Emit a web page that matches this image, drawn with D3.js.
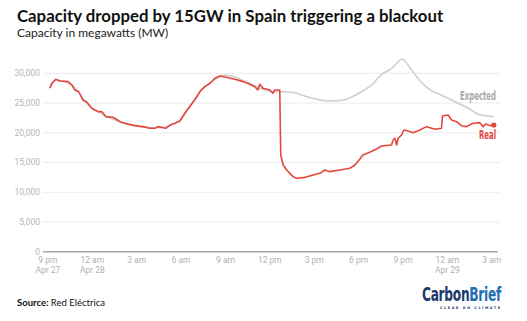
<!DOCTYPE html>
<html>
<head>
<meta charset="utf-8">
<script src="https://cdn.jsdelivr.net/npm/d3@7"></script>
<style>
  html, body { margin: 0; padding: 0; background: #fff; }
  svg { display: block; }
</style>
</head>
<body>
<div id="chart"></div>
<script>
// Spanish grid capacity around the 28 April blackout, real vs expected (MW)
const parseTime = d3.timeParse("%b %d %H:%M");

const realTimes = [
  "Apr 27 21:08", "Apr 27 21:16", "Apr 27 21:32", "Apr 27 21:49", "Apr 27 22:21", "Apr 27 22:37",
  "Apr 27 22:49", "Apr 27 23:05", "Apr 27 23:22", "Apr 27 23:38", "Apr 27 23:58", "Apr 28 00:23",
  "Apr 28 00:39", "Apr 28 00:55", "Apr 28 01:23", "Apr 28 01:36", "Apr 28 01:52", "Apr 28 02:24",
  "Apr 28 02:53", "Apr 28 03:25", "Apr 28 03:53", "Apr 28 04:14", "Apr 28 04:26", "Apr 28 04:58",
  "Apr 28 05:15", "Apr 28 05:35", "Apr 28 05:55", "Apr 28 06:15", "Apr 28 06:35", "Apr 28 07:00",
  "Apr 28 07:16", "Apr 28 07:36", "Apr 28 07:57", "Apr 28 08:17", "Apr 28 08:37", "Apr 28 09:02",
  "Apr 28 09:38", "Apr 28 10:11", "Apr 28 10:39", "Apr 28 10:59", "Apr 28 11:11", "Apr 28 11:19",
  "Apr 28 11:32", "Apr 28 12:00", "Apr 28 12:12", "Apr 28 12:20", "Apr 28 12:40", "Apr 28 12:44",
  "Apr 28 12:54", "Apr 28 13:08", "Apr 28 13:21", "Apr 28 13:34", "Apr 28 13:48", "Apr 28 14:15",
  "Apr 28 14:56", "Apr 28 15:23", "Apr 28 15:43", "Apr 28 16:03", "Apr 28 16:44", "Apr 28 17:24",
  "Apr 28 17:45", "Apr 28 18:05", "Apr 28 18:17", "Apr 28 18:45", "Apr 28 19:12", "Apr 28 19:33",
  "Apr 28 20:13", "Apr 28 20:20", "Apr 28 20:27", "Apr 28 20:34", "Apr 28 20:40", "Apr 28 20:54",
  "Apr 28 21:03", "Apr 28 21:21", "Apr 28 21:41", "Apr 28 22:08", "Apr 28 22:35", "Apr 28 22:56",
  "Apr 28 23:09", "Apr 28 23:36", "Apr 28 23:40", "Apr 29 00:03", "Apr 29 00:17", "Apr 29 00:37",
  "Apr 29 00:57", "Apr 29 01:17", "Apr 29 01:44", "Apr 29 02:11", "Apr 29 02:25", "Apr 29 02:35",
  "Apr 29 02:52", "Apr 29 03:08"
];
const realValues = [
  27480, 28300, 29000, 28700, 28600, 28040,
  27200, 26900, 25500, 25130, 24120, 23550,
  23550, 22710, 22600, 22320, 21870, 21480,
  21200, 21030, 20750, 20750, 21030, 20750,
  21300, 21600, 21980, 23280, 24390, 25800,
  26910, 27750, 28330, 29170, 29550, 29330,
  29000, 28600, 28160, 27750, 27200, 28160,
  27480, 27200, 26640, 27200, 27200, 16260,
  14580, 13740, 13180, 12620, 12340, 12450,
  12900, 13180, 13740, 13460, 13740, 14020,
  14580, 15590, 16260, 16710, 17270, 17780,
  17950, 18790, 19070, 17950, 19070, 19630,
  20470, 20300, 20020, 20470, 21030, 20750,
  20580, 20750, 22820, 22990, 22150, 21870,
  21190, 21030, 21600, 21700, 21030, 21480,
  21200, 21310
];

const expectedTimes = [
  "Apr 27 21:08", "Apr 27 21:30", "Apr 27 22:00", "Apr 27 22:30", "Apr 27 23:00", "Apr 27 23:30",
  "Apr 28 00:00", "Apr 28 00:30", "Apr 28 01:00", "Apr 28 01:30", "Apr 28 02:00", "Apr 28 02:30",
  "Apr 28 03:00", "Apr 28 03:30", "Apr 28 04:00", "Apr 28 04:30", "Apr 28 05:00", "Apr 28 05:30",
  "Apr 28 06:00", "Apr 28 06:30", "Apr 28 07:00", "Apr 28 07:30", "Apr 28 08:00", "Apr 28 08:30",
  "Apr 28 09:00", "Apr 28 09:30", "Apr 28 10:00", "Apr 28 10:30", "Apr 28 11:00", "Apr 28 11:30",
  "Apr 28 12:00", "Apr 28 12:40", "Apr 28 13:30", "Apr 28 14:30", "Apr 28 16:00", "Apr 28 17:00",
  "Apr 28 18:00", "Apr 28 19:00", "Apr 28 19:30", "Apr 28 20:15", "Apr 28 20:35", "Apr 28 20:55",
  "Apr 28 21:25", "Apr 28 21:55", "Apr 28 22:25", "Apr 28 22:50", "Apr 28 23:35", "Apr 29 00:30",
  "Apr 29 01:25", "Apr 29 02:05", "Apr 29 03:08"
];
const expectedValues = [
  27600, 28800, 28700, 28200, 27100, 25300,
  24100, 23400, 22700, 22200, 21700, 21350,
  21100, 20950, 20850, 20850, 21000, 21500,
  22300, 24200, 25900, 27500, 28400, 29300,
  29700, 29450, 29000, 28500, 27900, 27300,
  26950, 26910, 26800, 26070, 25350, 25520,
  26640, 28320, 29720, 30850, 31690, 32400,
  31120, 29430, 28040, 27200, 26360, 25230,
  24120, 23110, 22710
];

const yTicks = [0, 5000, 10000, 15000, 20000, 25000, 30000];
const timeDomain = ["Apr 27 20:40", "Apr 29 03:25"];

const width = 527, height = 321;
const plot = { left: 43, right: 498, top: 73.3, bottom: 251.7 };
const narrow = "'Liberation Sans Narrow', 'DejaVu Sans Condensed', 'Liberation Sans', sans-serif";

const svg = d3.select("#chart").append("svg")
  .attr("width", width)
  .attr("height", height);

const x = d3.scaleTime()
  .domain(timeDomain.map(parseTime))
  .range([plot.left, plot.right]);

const y = d3.scaleLinear()
  .domain([0, 30000])
  .range([plot.bottom, plot.top]);

// Title block
svg.append("text")
  .attr("x", 17).attr("y", 22)
  .attr("font-family", "Lato, sans-serif")
  .attr("font-weight", 700)
  .attr("font-size", 16.8)
  .attr("fill", "#111")
  .text("Capacity dropped by 15GW in Spain triggering a blackout");

svg.append("text")
  .attr("x", 17).attr("y", 37)
  .attr("font-family", "Lato, sans-serif")
  .attr("font-size", 12)
  .attr("fill", "#222")
  .text("Capacity in megawatts (MW)");

// Gridlines + y labels
const yAxis = svg.append("g");
yAxis.selectAll("line.grid")
  .data(yTicks.filter(d => d > 0))
  .join("line")
  .attr("class", "grid")
  .attr("x1", plot.left).attr("x2", plot.right + 2)
  .attr("y1", d => y(d)).attr("y2", d => y(d))
  .attr("stroke", "#ececec")
  .attr("stroke-width", 1);

yAxis.selectAll("text")
  .data(yTicks)
  .join("text")
  .attr("x", 40)
  .attr("y", d => y(d))
  .attr("dy", "0.35em")
  .attr("text-anchor", "end")
  .attr("font-family", "Roboto, sans-serif")
  .attr("font-size", 8.5)
  .attr("fill", "#b5b5b5")
  .text(d3.format(","));

// x axis
const xTicks = x.ticks(d3.timeHour.every(3));
const hourFmt = d => d3.timeFormat("%-I %p")(d).toLowerCase();
const dayFmt = d3.timeFormat("%b %-d");

svg.append("line")
  .attr("x1", plot.left).attr("x2", plot.right)
  .attr("y1", plot.bottom).attr("y2", plot.bottom)
  .attr("stroke", "#a8a8a8")
  .attr("stroke-width", 1.5);

const xLabels = svg.append("g")
  .attr("font-family", "Roboto, sans-serif")
  .attr("font-size", 8.5)
  .attr("fill", "#b0b0b0")
  .attr("text-anchor", "middle");

xTicks.forEach((t, i) => {
  const g = xLabels.append("text")
    .attr("x", x(t))
    .attr("y", 263);
  g.append("tspan").attr("x", x(t)).text(hourFmt(t));
  if (i === 0 || t.getHours() === 0) {
    g.append("tspan").attr("x", x(t)).attr("dy", 10).text(dayFmt(t));
  }
});

// Lines
const expected = expectedTimes.map((t, i) => ({ date: parseTime(t), value: expectedValues[i] }));
const real = realTimes.map((t, i) => ({ date: parseTime(t), value: realValues[i] }));

const line = d3.line()
  .x(d => x(d.date))
  .y(d => y(d.value));

svg.append("path")
  .datum(expected)
  .attr("fill", "none")
  .attr("stroke", "#cfcfcf")
  .attr("stroke-width", 1.6)
  .attr("stroke-linejoin", "round")
  .attr("d", line.curve(d3.curveMonotoneX));

svg.append("path")
  .datum(real)
  .attr("fill", "none")
  .attr("stroke", "#e4473b")
  .attr("stroke-width", 1.6)
  .attr("stroke-linejoin", "round")
  .attr("d", line.curve(d3.curveLinear));

const lastReal = real[real.length - 1];
svg.append("circle")
  .attr("cx", x(lastReal.date))
  .attr("cy", y(lastReal.value))
  .attr("r", 2.6)
  .attr("fill", "#e4473b");

// Series labels
svg.append("text")
  .attr("x", 460).attr("y", 100)
  .attr("font-family", narrow)
  .attr("font-weight", 700)
  .attr("font-size", 11.5)
  .attr("fill", "#a9a9a9")
  .attr("textLength", 36)
  .attr("lengthAdjust", "spacingAndGlyphs")
  .text("Expected");

svg.append("text")
  .attr("x", 479).attr("y", 138.5)
  .attr("font-family", narrow)
  .attr("font-weight", 700)
  .attr("font-size", 11.5)
  .attr("fill", "#e4473b")
  .attr("textLength", 17)
  .attr("lengthAdjust", "spacingAndGlyphs")
  .text("Real");

// Footer
const src = svg.append("text")
  .attr("x", 17).attr("y", 306)
  .attr("font-family", "Lato, sans-serif")
  .attr("font-size", 9.5)
  .attr("fill", "#111");
src.append("tspan").attr("font-weight", 700).text("Source:");
src.append("tspan").text(" Red Eléctrica");

// Publisher wordmark, squeezed horizontally to a condensed look
const logoG = svg.append("g");
const logo = logoG.append("text")
  .attr("font-family", narrow)
  .attr("font-weight", 700)
  .attr("font-size", 19.5)
  .attr("letter-spacing", -0.4);
logo.append("tspan").attr("fill", "#1b3a6a").text("Carbon");
logo.append("tspan").attr("fill", "#1f6db3").text("Brief");
const logoW = logo.node().getComputedTextLength();
logoG.attr("transform", `translate(422,300.5) scale(${79 / logoW},1)`);

svg.append("text")
  .attr("x", 440).attr("y", 308.5)
  .attr("font-family", "'DejaVu Sans', sans-serif")
  .attr("font-weight", 700)
  .attr("font-size", 3.4)
  .attr("fill", "#1b3a6a")
  .attr("textLength", 60)
  .attr("lengthAdjust", "spacing")
  .text("CLEAR ON CLIMATE");
</script>
</body>
</html>
